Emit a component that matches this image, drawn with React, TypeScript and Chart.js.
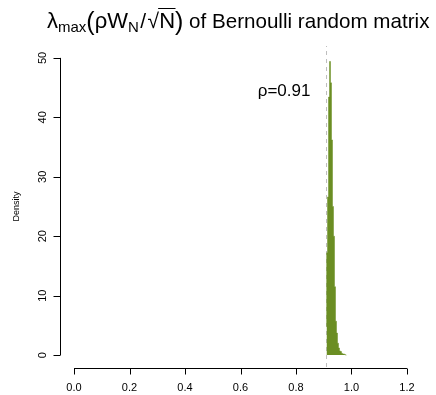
import React, { useEffect, useRef } from 'react';
import { Chart, registerables } from 'chart.js';

Chart.register(...registerables);

// Histogram data (density per bin)
const binStart = 0.91;
const binWidth = 0.0036;
const density = [4.8, 17.2, 26.6, 43.4, 49.4, 45.8, 36.2, 25.0, 20.0, 11.5, 5.7, 3.7, 2.0, 1.2, 0.7, 0.6, 0.3, 0.2, 0.2, 0.1];
const rho = 0.91;
const rhoLabel = 'ρ=0.91';
const xTicks = [0, 0.2, 0.4, 0.6, 0.8, 1.0, 1.2];
const xTickLabels = ['0.0', '0.2', '0.4', '0.6', '0.8', '1.0', '1.2'];
const yTicks = [0, 10, 20, 30, 40, 50];
const yTickLabels = ['0', '10', '20', '30', '40', '50'];
const yLabel = 'Density';
const titleTail = ' of Bernoulli random matrix';

const X_MIN = -0.048;
const X_MAX = 1.248;
const Y_MIN = -2;
const Y_MAX = 52;
const LABEL_POS = { x: 0.757, y: 44.3 };

const FONT = "'Liberation Sans', Arial, Helvetica, sans-serif";
const BAR_COLOR = '#6B8E23';

function drawTitle(ctx: CanvasRenderingContext2D, startX: number, baseY: number) {
  const parts = [
    { t: 'λ', size: 22, dy: 0 },
    { t: 'max', size: 15, dy: 4 },
    { t: '(', size: 25, dy: 1.5 },
    { t: 'ρW', size: 22, dy: 0 },
    { t: 'N', size: 15, dy: 4 },
    { t: ' / ', size: 14, dy: 0, gap: true },
    { t: '√', size: 21, dy: 0, sqrt: true },
    { t: 'N', size: 22, dy: 0, over: true },
    { t: ')', size: 25, dy: 1.5 },
    { t: titleTail, size: 20.6, dy: 0 },
  ] as any[];
  let x = startX;
  ctx.fillStyle = '#000';
  ctx.textAlign = 'left';
  ctx.textBaseline = 'alphabetic';
  let sqrtEnd = 0;
  for (const p of parts) {
    if (p.gap) {
      // slash with a little spacing on both sides
      ctx.font = `21px ${FONT}`;
      const ws = ctx.measureText('/').width;
      ctx.fillText('/', x + 1.5, baseY);
      x += ws + 3;
      continue;
    }
    ctx.font = `${p.size}px ${FONT}`;
    const w = ctx.measureText(p.t).width;
    ctx.fillText(p.t, x, baseY + p.dy);
    if (p.sqrt) sqrtEnd = x + w;
    if (p.over) {
      ctx.strokeStyle = '#000';
      ctx.lineWidth = 1;
      ctx.beginPath();
      ctx.moveTo(sqrtEnd - 1, baseY - 19.5);
      ctx.lineTo(x + w + 0.5, baseY - 19.5);
      ctx.stroke();
    }
    x += w;
  }
}

const axesPlugin = {
  id: 'rAxes',
  afterDraw(chart: any) {
    const ctx: CanvasRenderingContext2D = chart.ctx;
    const xs = chart.scales.x;
    const ys = chart.scales.y;
    const area = chart.chartArea;
    ctx.save();
    ctx.strokeStyle = '#000';
    ctx.fillStyle = '#000';
    ctx.lineWidth = 1;

    // x axis
    const axY = Math.round(area.bottom + 1) + 0.5;
    const x0 = xs.getPixelForValue(xTicks[0]);
    const x1 = xs.getPixelForValue(xTicks[xTicks.length - 1]);
    ctx.beginPath();
    ctx.moveTo(x0, axY);
    ctx.lineTo(x1, axY);
    xTicks.forEach((v) => {
      const px = Math.round(xs.getPixelForValue(v)) + 0.5;
      ctx.moveTo(px, axY);
      ctx.lineTo(px, axY + 6);
    });
    ctx.stroke();
    ctx.font = `11px ${FONT}`;
    ctx.textAlign = 'center';
    ctx.textBaseline = 'alphabetic';
    xTicks.forEach((v, i) => {
      ctx.fillText(xTickLabels[i], xs.getPixelForValue(v), 390.5);
    });

    // y axis
    const axX = Math.round(area.left) - 0.5;
    const y0 = ys.getPixelForValue(yTicks[0]);
    const y1 = ys.getPixelForValue(yTicks[yTicks.length - 1]);
    ctx.beginPath();
    ctx.moveTo(axX, y0);
    ctx.lineTo(axX, y1);
    yTicks.forEach((v) => {
      const py = Math.round(ys.getPixelForValue(v)) + 0.5;
      ctx.moveTo(axX, py);
      ctx.lineTo(axX - 7, py);
    });
    ctx.stroke();
    yTicks.forEach((v, i) => {
      ctx.save();
      ctx.translate(axX - 14.5, ys.getPixelForValue(v));
      ctx.rotate(-Math.PI / 2);
      ctx.font = `11px ${FONT}`;
      ctx.textAlign = 'center';
      ctx.textBaseline = 'alphabetic';
      ctx.fillText(yTickLabels[i], 0, 0);
      ctx.restore();
    });

    // y label
    ctx.save();
    ctx.translate(19, (area.top + area.bottom) / 2);
    ctx.rotate(-Math.PI / 2);
    ctx.font = `9px ${FONT}`;
    ctx.textAlign = 'center';
    ctx.textBaseline = 'alphabetic';
    ctx.fillText(yLabel, 0, 0);
    ctx.restore();

    // rho label
    ctx.font = `17px ${FONT}`;
    ctx.textAlign = 'center';
    ctx.textBaseline = 'middle';
    ctx.fillText(rhoLabel, xs.getPixelForValue(LABEL_POS.x), ys.getPixelForValue(LABEL_POS.y));

    // title
    drawTitle(ctx, 47, 28);
    ctx.restore();
  },
};

export default function App() {
  const canvasRef = useRef<HTMLCanvasElement | null>(null);

  useEffect(() => {
    if (!canvasRef.current) return;
    // histogram outline as a stepped series through the bin edges
    const steps = density.map((d, i) => ({ x: binStart + binWidth * i, y: d }));
    steps.push({ x: binStart + binWidth * density.length, y: 0 });
    const chart = new Chart(canvasRef.current, {
      type: 'line',
      data: {
        datasets: [
          {
            type: 'line',
            data: steps as any,
            stepped: 'after',
            backgroundColor: BAR_COLOR,
            borderColor: BAR_COLOR,
            borderWidth: 0.5,
            pointRadius: 0,
            fill: 'origin',
            order: 0,
          } as any,
          {
            type: 'line',
            data: [
              { x: rho, y: Y_MIN },
              { x: rho, y: Y_MAX },
            ] as any,
            borderColor: '#bebebe',
            borderWidth: 1,
            borderDash: [4, 4],
            pointRadius: 0,
            fill: false,
            order: 1,
          } as any,
        ],
      },
      options: {
        animation: false,
        responsive: true,
        maintainAspectRatio: false,
        layout: { padding: { left: 60.7, right: 15.7, top: 46, bottom: 28 } },
        plugins: { legend: { display: false }, tooltip: { enabled: false }, title: { display: false } },
        scales: {
          x: { type: 'linear', min: X_MIN, max: X_MAX, display: false, offset: false },
          y: { type: 'linear', min: Y_MIN, max: Y_MAX, display: false },
        },
      },
      plugins: [axesPlugin],
    });
    return () => chart.destroy();
  }, []);

  return (
    <div style={{ position: 'fixed', left: 0, top: 0, width: 436, height: 395, background: '#fff' }}>
      <canvas ref={canvasRef} />
    </div>
  );
}
